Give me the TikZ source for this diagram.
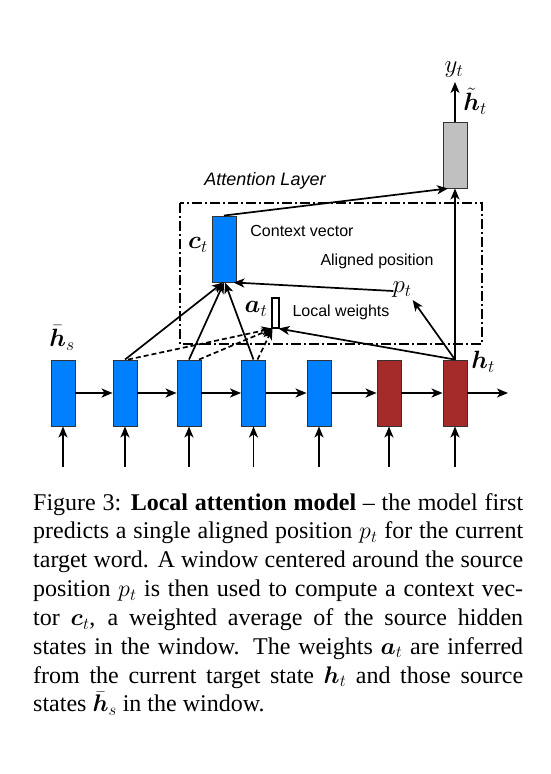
\RequirePackage{fix-cm}
\documentclass[tikz,border=0pt]{standalone}
\usepackage{amsmath,amsbsy}
\usepackage{fontspec}
\setmainfont{Liberation Serif}
\newfontfamily\arialf{Liberation Sans}
\usetikzlibrary{arrows.meta}
\definecolor{bluec}{RGB}{0,128,255}
\definecolor{redc}{RGB}{165,42,42}
\definecolor{grayc}{RGB}{192,192,192}
\newcommand{\capline}[1]{\makebox[490pt][s]{#1}\\}
\begin{document}
\begin{tikzpicture}[x=1pt,y=-1pt,
  cell/.style={draw=black!80, line width=0.9pt, minimum width=24pt, minimum height=66pt, inner sep=0pt},
  bcell/.style={cell, fill=bluec},
  rcell/.style={cell, fill=redc},
  gcell/.style={cell, fill=grayc},
  arr/.style={-{Stealth[length=11pt,width=9pt,inset=3pt]}, line width=1.7pt},
  darr/.style={arr, dash pattern=on 5pt off 3pt},
  lbl/.style={font=\arialf\fontsize{16}{18}\selectfont, inner sep=0pt},
  mlbl/.style={font=\fontsize{25}{28}\selectfont, inner sep=0pt},
  layer/.style={draw, line width=1.4pt, dash pattern=on 10pt off 3pt on 2pt off 3pt}]
\useasboundingbox (0,0) rectangle (550,774);
\fill[white] (0,0) rectangle (550,774);

% attention layer frame
\draw[layer] (180,203) rectangle (482,344);
\node[lbl, font=\arialf\itshape\fontsize{18}{20}\selectfont] (attl) at (265,181) {Attention Layer};

% RNN cells
\node[bcell] (b1) at (63,393) {};
\node[bcell] (b2) at (125,393) {};
\node[bcell] (b3) at (189,393) {};
\node[bcell] (b4) at (253.5,393) {};
\node[bcell] (b5) at (319,393) {};
\node[rcell] (r6) at (389,393) {};
\node[rcell] (r7) at (455,393) {};
\node[gcell] (gr) at (455,155) {};
\node[bcell] (ct) at (224,249) {};
\node[draw=black, line width=1.1pt, fill=white, minimum width=7pt, minimum height=30pt, inner sep=0pt] (atb) at (275.5,313) {};

% inputs
\foreach \n/\x in {b1/63,b2/125,b3/189,b4/253.5,b5/319,r6/389,r7/455}{
  \coordinate (in\n) at (\x,467);
  \draw[arr] (in\n) -- (\n.south);
}
% recurrent
\draw[arr] (b1) -- (b2);
\draw[arr] (b2) -- (b3);
\draw[arr] (b3) -- (b4);
\draw[arr] (b4) -- (b5);
\draw[arr] (b5) -- (r6);
\draw[arr] (r6) -- (r7);
\coordinate (outend) at (508,393);
\draw[arr] (r7) -- (outend);

% labels
\node[mlbl] (hs) at (62,338) {$\bar{\boldsymbol{h}}_s$};
\node[mlbl] (htl) at (483,362) {$\boldsymbol{h}_t$};
\node[mlbl] (ytl) at (454,70) {$y_t$};
\node[mlbl] (httl) at (475,101) {$\tilde{\boldsymbol{h}}_t$};
\node[mlbl] (ctl) at (198,245) {$\boldsymbol{c}_t$};
\node[mlbl] (atl) at (256,309) {$\boldsymbol{a}_t$};
\node[mlbl] (ptl) at (402,290) {$p_t$};
\node[lbl] (cvl) at (302,231) {Context vector};
\node[lbl] (apl) at (377,261) {Aligned position};
\node[lbl] (lwl) at (341,312) {Local weights};

% output
\coordinate (ytin) at (455,82);
\draw[arr] (gr.north) -- (ytin);
\draw[arr] (ct.north) -- ([xshift=-7pt]gr.south);
\draw[arr] (r7.north) -- (gr.south);

% aligned position
\draw[arr] ([xshift=1pt,yshift=-1pt]ptl.west) -- ([xshift=-3pt]ct.south east);
\draw[arr] (r7.north) -- ([xshift=1pt,yshift=-2pt]ptl.south east);

% local weights
\draw[arr] (r7.north) -- ([xshift=3pt]atb.south);
\draw[darr] ([xshift=3pt]b2.north) -- ([xshift=-3pt]atb.south);
\draw[darr] ([xshift=10pt]b3.north) -- ([xshift=-3pt]atb.south);
\draw[darr] ([xshift=4pt]b4.north) -- ([xshift=-3pt]atb.south);

% context vector
\draw[arr] (b2.north) -- ([xshift=-1pt]ct.south);
\draw[arr] (b3.north) -- (ct.south);
\draw[arr] (b4.north) -- ([xshift=1pt]ct.south);

% caption
\node[anchor=base west, inner sep=0pt, font=\fontsize{24}{28.85}\selectfont] (cap) at (33,510) {\parbox[t]{490pt}{%
\capline{Figure 3: \textbf{Local attention model} -- the model first}
\capline{predicts a single aligned position $p_t$ for the current}
\capline{target word. A window centered around the source}
\capline{position $p_t$ is then used to compute a context vec-}
\capline{tor $\boldsymbol{c}_t$, a weighted average of the source hidden}
\capline{states in the window. The weights $\boldsymbol{a}_t$ are inferred}
\capline{from the current target state $\boldsymbol{h}_t$ and those source}
states $\bar{\boldsymbol{h}}_s$ in the window.}};
\end{tikzpicture}
\end{document}
